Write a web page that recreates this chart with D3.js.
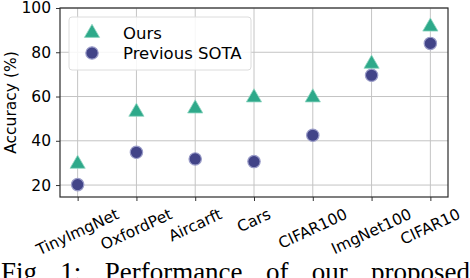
<!DOCTYPE html>
<html><head><meta charset="utf-8">
<script src="https://cdn.jsdelivr.net/npm/d3@7"></script>
<style>body{margin:0;background:#fff;}svg{display:block;}</style>
</head><body>
<svg id="c" width="470" height="278"></svg>
<script>
const categories = ["TinyImgNet","OxfordPet","Aircarft","Cars","CIFAR100","ImgNet100","CIFAR10"];
const oursValues = [30, 53.5, 55, 60, 60, 75.2, 92];
const sotaValues = [20.2, 34.8, 31.8, 30.6, 42.5, 69.6, 84];
const yTicks = [20, 40, 60, 80, 100];
const seriesNames = ["Ours", "Previous SOTA"];
const captionWords = ["Fig", "1:", "Performance", "of", "our", "proposed"];

const svg = d3.select("#c");
const L = 60, R = 448, T = 8, B = 197;
const x = d3.scaleLinear().domain([-0.3, 6.3]).range([L, R]);
const y = d3.scaleLinear().domain([14.6, 100]).range([B, T]);
const green = "#2ea98a", navy = "#424488";
const font = "DejaVu Sans, sans-serif";

// grid
const g = svg.append("g");
g.selectAll(".gx").data(categories).join("line")
  .attr("x1", (d,i)=>x(i)).attr("x2",(d,i)=>x(i)).attr("y1",T).attr("y2",B)
  .attr("stroke","#c4c4c4").attr("stroke-width",1);
g.selectAll(".gy").data(yTicks).join("line")
  .attr("x1",L).attr("x2",R).attr("y1",d=>y(d)).attr("y2",d=>y(d))
  .attr("stroke","#c4c4c4").attr("stroke-width",1);

// axes
const yAxis = d3.axisLeft(y).tickValues(yTicks).tickSize(4).tickPadding(5);
const ya = svg.append("g").attr("transform",`translate(${L},0)`).call(yAxis);
ya.select(".domain").remove();
ya.selectAll("line").attr("stroke","#333");
ya.selectAll("text").attr("font-family",font).attr("font-size",15.5).attr("fill","#000");

const xAxis = d3.axisBottom(x).tickValues(d3.range(categories.length)).tickSize(4).tickFormat("");
const xa = svg.append("g").attr("transform",`translate(0,${B})`).call(xAxis);
xa.select(".domain").remove();
xa.selectAll("line").attr("stroke","#333");

svg.append("rect").attr("x",L).attr("y",T).attr("width",R-L).attr("height",B-T)
  .attr("fill","none").attr("stroke","#2b2b2b").attr("stroke-width",1.2);

// x labels rotated, centered at tick
const ang = 25 * Math.PI/180;
categories.forEach((c,i)=>{
  const t = svg.append("text").text(c).attr("font-family",font).attr("font-size",15.5)
    .attr("text-anchor","middle").attr("dominant-baseline","central").attr("fill","#000");
  const w = t.node().getComputedTextLength();
  const h = 15.5*1.05;
  const vh = w*Math.sin(ang) + h*Math.cos(ang);
  const cy = B + 9 + vh/2;
  t.attr("transform",`translate(${x(i)},${cy}) rotate(-25)`);
});

// y label
svg.append("text").text("Accuracy (%)").attr("font-family",font).attr("font-size",15.5)
  .attr("text-anchor","middle").attr("fill","#000")
  .attr("transform",`translate(16,${(T+B)/2}) rotate(-90)`);

// markers
const tri = d3.symbol().type(d3.symbolTriangle).size(100);
const circ = d3.symbol().type(d3.symbolCircle).size(120);
svg.append("g").selectAll("path").data(sotaValues).join("path")
  .attr("d",circ).attr("transform",(d,i)=>`translate(${x(i)},${y(d)})`)
  .attr("fill",navy).attr("stroke","#9a9cc8").attr("stroke-width",1.2);
svg.append("g").selectAll("path").data(oursValues).join("path")
  .attr("d",tri).attr("transform",(d,i)=>`translate(${x(i)},${y(d)+1})`)
  .attr("fill",green).attr("stroke","#8fd6c2").attr("stroke-width",0.8);

// legend
const lg = svg.append("g");
lg.append("rect").attr("x",69).attr("y",17).attr("width",182).attr("height",53).attr("rx",3)
  .attr("fill","rgba(255,255,255,0.85)").attr("stroke","#dcdcdc").attr("stroke-width",1);
lg.append("path").attr("d",tri).attr("transform","translate(92,33)").attr("fill",green)
  .attr("stroke","#8fd6c2").attr("stroke-width",0.8);
lg.append("path").attr("d",circ).attr("transform","translate(92,53)").attr("fill",navy)
  .attr("stroke","#9a9cc8").attr("stroke-width",1.2);
lg.selectAll("text").data(seriesNames).join("text").text(d=>d)
  .attr("x",123).attr("y",(d,i)=>i===0?33:53).attr("dy","0.35em")
  .attr("font-family",font).attr("font-size",16.5).attr("fill","#000");

// caption: justified across the full width
const capSize = 27;
const cap = svg.append("g");
const words = cap.selectAll("text").data(captionWords).join("text").text(d=>d)
  .attr("y",263 + capSize*0.66)
  .attr("font-family","Liberation Serif, serif").attr("font-size",capSize).attr("fill","#000");
const widths = words.nodes().map(n=>n.getComputedTextLength());
const gap = (470 - 1 - d3.sum(widths)) / (captionWords.length - 1);
let cx = 1;
words.each(function(d,i){ d3.select(this).attr("x", cx); cx += widths[i] + gap; });
</script>
</body></html>
